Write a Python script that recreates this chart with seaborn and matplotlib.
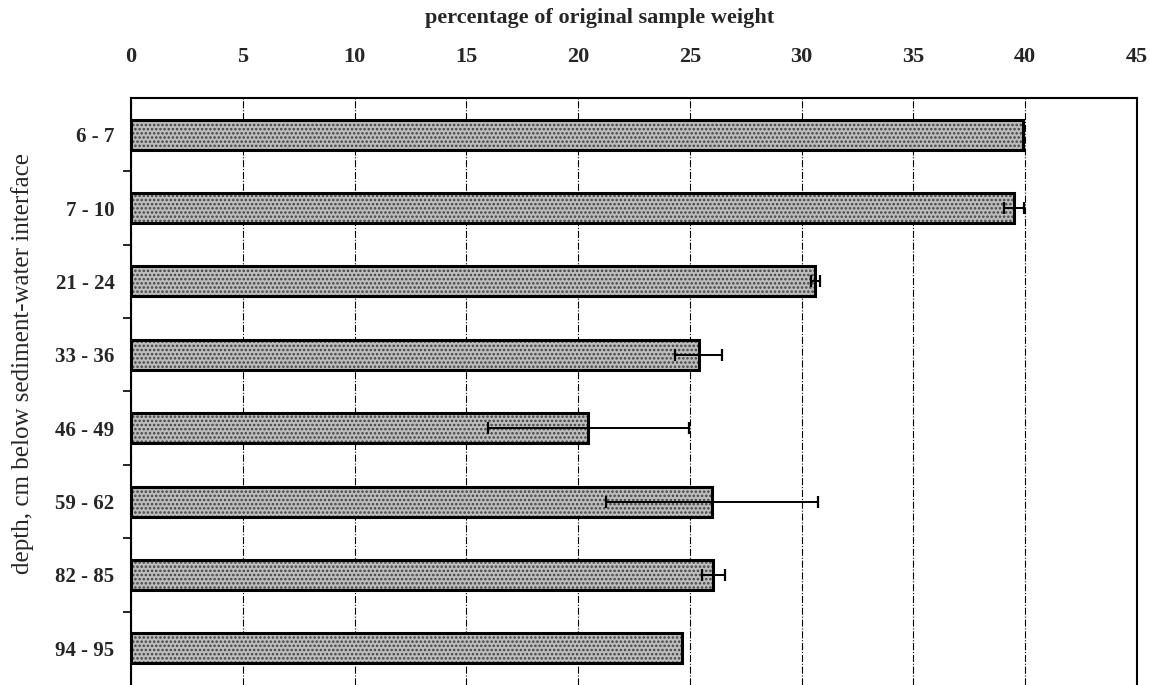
import numpy as np
import pandas as pd
import seaborn as sns
import matplotlib.pyplot as plt
from matplotlib.ticker import MultipleLocator, FixedLocator

depths = ['6 - 7', '7 - 10', '21 - 24', '33 - 36', '46 - 49', '59 - 62', '82 - 85', '94 - 95']
pct_weight = [39.9, 39.5, 30.6, 25.4, 20.45, 26.0, 26.05, 24.65]
pct_err = [0.0, 0.45, 0.2, 1.05, 4.5, 4.75, 0.5, 0.0]

df = pd.DataFrame({'depth': depths, 'pct': pct_weight, 'err': pct_err})
df['pos'] = np.arange(len(df))

sns.set_theme(style='white')
plt.rcParams['font.family'] = ['Liberation Serif', 'DejaVu Serif']
plt.rcParams['hatch.linewidth'] = 1.2

fig = plt.figure(figsize=(11.5, 6.85), dpi=100)
ax = fig.add_axes([0.114, 0.0, 0.8747, 0.857])

# stippled fill
sns.barplot(data=df, x='pct', y='depth', orient='h', width=0.41,
            color='#bdbdbd', edgecolor='#404040', linewidth=0, hatch='....',
            errorbar=None, ax=ax, zorder=2)
# outlines
sns.barplot(data=df, x='pct', y='depth', orient='h', width=0.41,
            fill=False, edgecolor='black', linewidth=2.2,
            errorbar=None, ax=ax, zorder=3)

# error bars (only where there is one)
eb = df[df['err'] > 0]
ax.errorbar(eb['pct'], eb['pos'], xerr=eb['err'], fmt='none',
            ecolor='black', elinewidth=1.4, capsize=4, capthick=1.6, zorder=4)

ax.set_xlim(0, 45)
ax.set_ylim(7.5, -0.5)
ax.xaxis.set_major_locator(MultipleLocator(5))
ax.xaxis.tick_top()
ax.xaxis.set_label_position('top')
ax.tick_params(axis='x', which='major', length=0, pad=22, labelsize=16)
ax.tick_params(axis='y', which='major', length=0, pad=12, labelsize=15)
for lbl in ax.get_xticklabels() + ax.get_yticklabels():
    lbl.set_fontweight('bold')

# boundary ticks between categories
ax.yaxis.set_minor_locator(FixedLocator(np.arange(0.5, len(df) - 0.5, 1)))
ax.tick_params(axis='y', which='minor', left=True, length=6, width=1.2, color='black', direction='out')

ax.grid(axis='x', which='major', color='black', linestyle='-.', linewidth=0.8, zorder=0)
ax.set_axisbelow(True)

for side in ['top', 'left', 'right']:
    ax.spines[side].set_color('black')
    ax.spines[side].set_linewidth(1.5)
ax.spines['bottom'].set_visible(False)

ax.set_xlabel('percentage of original sample weight', fontsize=16, fontweight='bold')
ax.xaxis.set_label_coords(0.466, 1.136)
ax.xaxis.label.set_va('center')
ax.set_ylabel('depth, cm below sediment-water interface', fontsize=18)
ax.yaxis.set_label_coords(-0.108, 0.547)
ax.yaxis.label.set_va('center')

fig.savefig('out.png', dpi=100)
